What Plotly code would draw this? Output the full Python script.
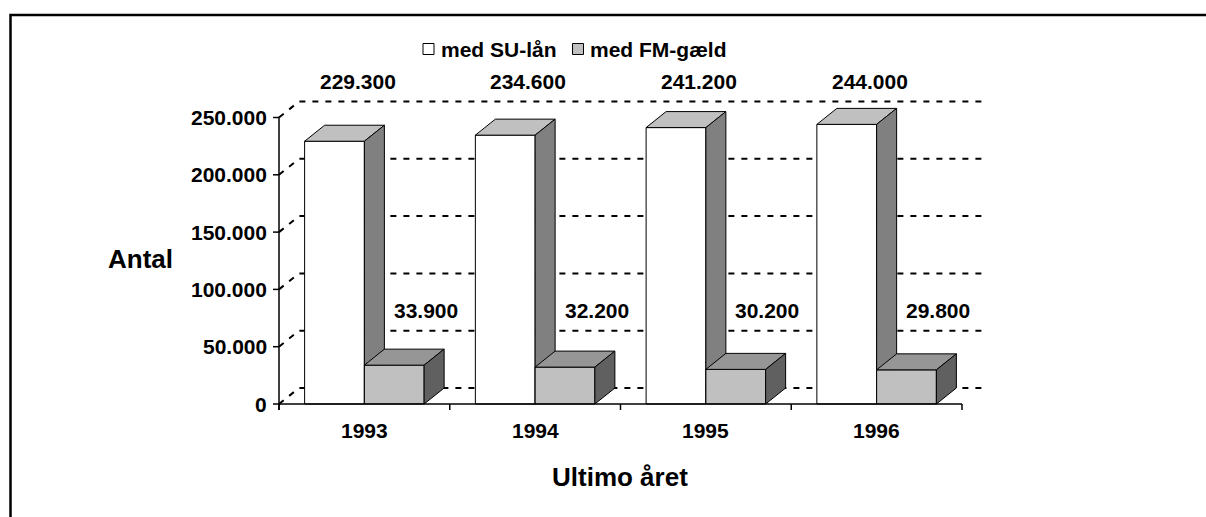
import plotly.graph_objects as go

# ---------------- data ----------------
years = ["1993", "1994", "1995", "1996"]
su_laan = [229300, 234600, 241200, 244000]
fm_gaeld = [33900, 32200, 30200, 29800]
y_ticks = [0, 50000, 100000, 150000, 200000, 250000]
y_tick_text = ["0", "50.000", "100.000", "150.000", "200.000", "250.000"]
series_names = ["med SU-lån", "med FM-gæld"]
x_title = "Ultimo året"
y_title = "Antal"


def fmt(v):
    return f"{v:,}".replace(",", ".")


# ---------------- geometry / style ----------------
W, H = 1206, 517
PX_X = 170.75          # pixels per category
X_EDGE_PX = 279        # pixel of the left category boundary
PX_Y = 286.5 / 250000  # pixels per unit
Y0_PX = 404            # pixel of value 0
x_range = [-0.5 - X_EDGE_PX / PX_X, -0.5 + (W - X_EDGE_PX) / PX_X]
y_range = [-(H - Y0_PX) / PX_Y, Y0_PX / PX_Y]
DX = 20 / PX_X         # 3-D depth offset
DY = 16 / PX_Y
BAR_W = 0.35
FONT = "Liberation Sans, Arial, sans-serif"


def px2x(p):
    return -0.5 + (p - X_EDGE_PX) / PX_X


def px2y(p):
    return (Y0_PX - p) / PX_Y


n = len(years)
x_left, x_right = -0.5, n - 0.5
y_top = y_ticks[-1]

fig = go.Figure()

# ---- walls: dotted gridlines on back wall + left-wall diagonals ----
gx, gy = [], []
for v in y_ticks:
    gx += [x_left, x_left + DX, x_right + DX, None]
    gy += [v, v + DY, v + DY, None]
fig.add_trace(go.Scatter(x=gx, y=gy, mode="lines",
                         line=dict(color="black", width=2, dash="6px,7px"),
                         hoverinfo="skip", showlegend=False))

# ---- 3-D bars ----
styles = [
    dict(front="#ffffff", top="#c0c0c0", side="#808080"),
    dict(front="#c0c0c0", top="#969696", side="#606060"),
]
for k, vals in enumerate([su_laan, fm_gaeld]):
    fx, fy, tx, ty, sx, sy = [], [], [], [], [], []
    for i, v in enumerate(vals):
        x0 = i - BAR_W if k == 0 else i
        x1 = x0 + BAR_W
        fx += [x0, x1, x1, x0, x0, None]
        fy += [0, 0, v, v, 0, None]
        tx += [x0, x1, x1 + DX, x0 + DX, x0, None]
        ty += [v, v, v + DY, v + DY, v, None]
        sx += [x1, x1 + DX, x1 + DX, x1, x1, None]
        sy += [0, DY, v + DY, v, 0, None]
    for xs, ys, col in [(fx, fy, styles[k]["front"]),
                        (tx, ty, styles[k]["top"]),
                        (sx, sy, styles[k]["side"])]:
        fig.add_trace(go.Scatter(x=xs, y=ys, mode="lines", fill="toself",
                                 fillcolor=col,
                                 line=dict(color="black", width=1),
                                 hoverinfo="skip", showlegend=False))

# ---- axis lines and ticks ----
tick_dy = 6 / PX_Y
tick_dx = 6 / PX_X
ax, ay = [x_left, x_left, None, x_left, x_right, None], [-tick_dy, y_top, None, 0, 0, None]
for b in range(n + 1):
    ax += [b - 0.5, b - 0.5, None]
    ay += [0, -tick_dy, None]
for v in y_ticks:
    ax += [x_left - tick_dx, x_left, None]
    ay += [v, v, None]
fig.add_trace(go.Scatter(x=ax, y=ay, mode="lines",
                         line=dict(color="black", width=1.5),
                         hoverinfo="skip", showlegend=False))

# ---- legend (custom) ----
leg_y = px2y(49)
leg_x = [px2x(428.5), px2x(578)]
fig.add_trace(go.Scatter(x=leg_x, y=[leg_y, leg_y], mode="markers",
                         marker=dict(symbol="square", size=11,
                                     color=[styles[0]["front"], styles[1]["front"]],
                                     line=dict(color="black", width=1)),
                         hoverinfo="skip", showlegend=False))

annotations = []
txt_font = dict(family=FONT, size=21, color="black", weight="bold")
for j, name in enumerate(series_names):
    annotations.append(dict(x=leg_x[j], y=leg_y, xref="x", yref="y", text=name,
                            showarrow=False, xanchor="left", yanchor="middle",
                            xshift=10, font=txt_font))

# ---- value labels ----
for i in range(n):
    annotations.append(dict(x=i - 0.04, y=px2y(81), xref="x", yref="y",
                            text=fmt(su_laan[i]), showarrow=False,
                            xanchor="center", yanchor="middle", font=txt_font))
    annotations.append(dict(x=i + 0.36, y=px2y(310), xref="x", yref="y",
                            text=fmt(fm_gaeld[i]), showarrow=False,
                            xanchor="center", yanchor="middle", font=txt_font))

# ---- category labels ----
for i, yr in enumerate(years):
    annotations.append(dict(x=i, y=0, xref="x", yref="y", text=yr,
                            showarrow=False, xanchor="center", yanchor="middle",
                            yshift=-26, font=txt_font))

# ---- y tick labels ----
for v, t in zip(y_ticks, y_tick_text):
    annotations.append(dict(x=x_left, y=v, xref="x", yref="y", text=t,
                            showarrow=False, xanchor="right", yanchor="middle",
                            xshift=-10, font=txt_font))

# ---- axis titles ----
title_font = dict(family=FONT, size=26, color="black", weight="bold")
annotations.append(dict(x=140 / W, y=1 - 259 / H, xref="paper", yref="paper",
                        text=y_title, showarrow=False, xanchor="center",
                        yanchor="middle", font=title_font))
annotations.append(dict(x=620 / W, y=1 - 477 / H, xref="paper", yref="paper",
                        text=x_title, showarrow=False, xanchor="center",
                        yanchor="middle", font=title_font))

fig.update_layout(
    width=W, height=H, autosize=False,
    margin=dict(l=0, r=0, t=0, b=0, pad=0),
    paper_bgcolor="white", plot_bgcolor="white",
    xaxis=dict(range=x_range, visible=False, fixedrange=True),
    yaxis=dict(range=y_range, visible=False, fixedrange=True),
    showlegend=False,
    annotations=annotations,
    shapes=[dict(type="rect", xref="paper", yref="paper",
                 x0=10.5 / W, x1=1.05, y0=-0.05, y1=1 - 15 / H,
                 line=dict(color="black", width=2.5), fillcolor="rgba(0,0,0,0)")],
    font=dict(family=FONT, color="black"),
)

fig.write_html(
    "out.html",
    config={"displayModeBar": False},
    post_script="document.body.style.margin='0';document.body.style.overflow='hidden';",
)
